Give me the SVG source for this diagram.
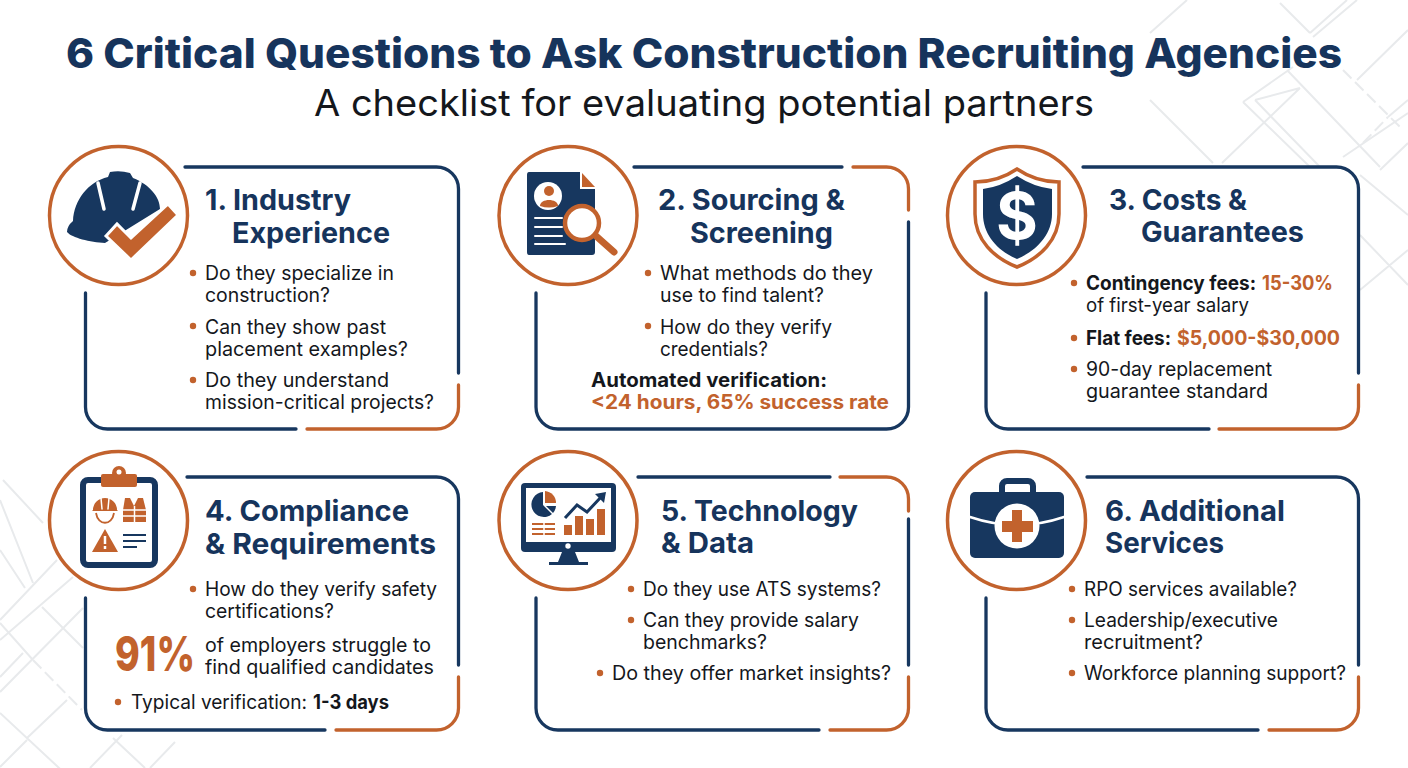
<svg xmlns="http://www.w3.org/2000/svg" width="1408" height="768" viewBox="0 0 1408 768">
<style>
text{font-family:"Inter","Liberation Sans",sans-serif;fill:#14171c}
.t{font-size:41px;font-weight:800;fill:#16345c}
.s{font-size:37px;font-weight:400;fill:#14171c}
.h{font-size:28.5px;font-weight:700;fill:#16345c;transform:translateY(1px)}
.b{font-size:19.5px;font-weight:400;transform:translateY(1px)}
.k{font-size:19.5px;font-weight:700;transform:translateY(1px)}
.o{font-size:19.5px;font-weight:700;fill:#c2622d;transform:translateY(1px)}
.n{fill:none;stroke:#17375f;stroke-width:3.3;stroke-linecap:round}
.r{fill:none;stroke:#c2622d;stroke-width:3.3;stroke-linecap:round}
.c{fill:#fff;stroke:#c2622d;stroke-width:3.5}
.d{fill:#c2622d}
.nf{fill:#17375f}
.of{fill:#c2622d}
.wl{stroke:#fff;fill:none;stroke-linecap:round}
.bg{fill:none;stroke:#e8eaec;stroke-width:2}
</style>
<rect width="1408" height="768" fill="#fff"/>
<g id="background">
<path class="bg" d="M1280 3L1310 33M1357 0L1313 37M1347 0L1310 33M1243 102L1293 67M1243 102L1310 167M1255 100L1300 88M1255 100L1320 167M1287 70L1380 167M1150 100L1213 163M1222 163L1300 88M1187 0L1150 33M1357 80L1408 30M1343 157L1408 113M1380 170L1408 143M1360 235L1408 285M1360 290L1408 250M1360 175L1408 215"/>
<path class="bg" stroke-dasharray="12 5" d="M1343 70L1403 130M1363 143L1388 117"/>
<path class="bg" d="M1388 117L1408 100"/>
<path class="bg" d="M3 480L43 523M0 500L33 583M0 550L25 588M0 620L57 560M0 640L73 577M42 607L83 648M0 623L33 660M0 677L23 653M0 692L83 608M27 738L67 700M0 713L72 780M0 767L27 740M113 738L145 768M90 768L122 735M150 768L175 742"/>
<path class="bg" stroke-dasharray="12 5" d="M33 660L82 710"/>
</g>
<g id="title">
<text class="t" x="66" y="68" textLength="1276" lengthAdjust="spacingAndGlyphs">6 Critical Questions to Ask Construction Recruiting Agencies</text>
<text class="s" x="314" y="116" textLength="780" lengthAdjust="spacingAndGlyphs">A checklist for evaluating potential partners</text>
</g>

<g id="connectors">
<rect x="85.500" y="167" width="373" height="262" rx="22" fill="#fff"/>
<rect x="536" y="167" width="372.500" height="262" rx="22" fill="#fff"/>
<rect x="986" y="167" width="372.500" height="262" rx="22" fill="#fff"/>
<rect x="85.500" y="477" width="373" height="253" rx="22" fill="#fff"/>
<rect x="536" y="477" width="372.500" height="253" rx="22" fill="#fff"/>
<rect x="986" y="477" width="372.500" height="253" rx="22" fill="#fff"/>
<path class="n" d="M185 167H436.500A22 22 0 0 1 458.500 189V373M296 429H107.500A22 22 0 0 1 85.500 407V293"/>
<path class="r" d="M458.500 385V407A22 22 0 0 1 436.500 429H307"/>
<path class="n" d="M634 167H842M908.500 222V407A22 22 0 0 1 886.500 429H558A22 22 0 0 1 536 407V293"/>
<path class="r" d="M853 167H886.500A22 22 0 0 1 908.500 189V210"/>
<path class="n" d="M1083 167H1336.500A22 22 0 0 1 1358.500 189V373M1209 429H1008A22 22 0 0 1 986 407V293"/>
<path class="r" d="M1358.500 385V407A22 22 0 0 1 1336.500 429H1219"/>
<path class="n" d="M187 477H436.500A22 22 0 0 1 458.500 499V665M325 730H107.500A22 22 0 0 1 85.500 708V598"/>
<path class="r" d="M458.500 677V708A22 22 0 0 1 436.500 730H336"/>
<path class="n" d="M638 477H830M908.500 519V665M819 730H558A22 22 0 0 1 536 708V598"/>
<path class="r" d="M840 477H886.500A22 22 0 0 1 908.500 499V511M908.500 677V708A22 22 0 0 1 886.500 730H830"/>
<path class="n" d="M1087 477H1336.500A22 22 0 0 1 1358.500 499V665M1258 730H1008A22 22 0 0 1 986 708V598"/>
<path class="r" d="M1358.500 677V708A22 22 0 0 1 1336.500 730H1269"/>
</g>

<g id="node1">
<circle class="c" cx="118.500" cy="215.500" r="69"/>
<path class="nf" d="M110 172Q120 170 130 173L133 178C150 185 160 197 160 209L105 243C90 242 72 238 67 232Q67 226 73 221C74 200 88 182 108 177Z"/>
<path class="wl" stroke-width="3.500" d="M98 183L104 209M140 183L133 209"/>
<path class="of" stroke="#fff" stroke-width="3" d="M106 236L117 224L131 238L168 204L178 215L131 260Z"/>
<text class="h" x="205" y="209" textLength="146" lengthAdjust="spacingAndGlyphs">1. Industry</text>
<text class="h" x="232" y="242" textLength="158" lengthAdjust="spacingAndGlyphs">Experience</text>
<circle class="d" cx="193" cy="273" r="3.200"/><circle class="d" cx="193" cy="326" r="3.200"/><circle class="d" cx="193" cy="380" r="3.200"/>
<text class="b" x="205" y="279" textLength="189" lengthAdjust="spacingAndGlyphs">Do they specialize in</text>
<text class="b" x="205" y="301" textLength="125" lengthAdjust="spacingAndGlyphs">construction?</text>
<text class="b" x="205" y="333" textLength="181" lengthAdjust="spacingAndGlyphs">Can they show past</text>
<text class="b" x="205" y="355" textLength="203" lengthAdjust="spacingAndGlyphs">placement examples?</text>
<text class="b" x="205" y="386" textLength="184" lengthAdjust="spacingAndGlyphs">Do they understand</text>
<text class="b" x="205" y="408" textLength="229" lengthAdjust="spacingAndGlyphs">mission-critical projects?</text>
</g>

<g id="node2">
<circle class="c" cx="568" cy="215.500" r="69"/>
<path class="nf" d="M529 172H580V189H595V252Q595 255 592 255H529Q527 255 527 252V175Q527 172 529 172Z"/>
<path class="of" d="M582 173L595 187H582Z"/>
<circle cx="548" cy="196" r="14" fill="#fff"/>
<circle class="of" cx="549" cy="191" r="5"/>
<path class="of" d="M540 206C540 198 558 198 558 206Q549 209 540 206Z"/>
<path class="wl" stroke-width="2" d="M535 218H562M535 227H562M535 236H562M535 244H565"/>
<circle cx="582" cy="223" r="17" fill="#fff" stroke="#c2622d" stroke-width="4.500"/>
<path d="M596 236L614 252" stroke="#c2622d" stroke-width="7" stroke-linecap="round"/>
<text class="h" x="658" y="209" textLength="187" lengthAdjust="spacingAndGlyphs">2. Sourcing &amp;</text>
<text class="h" x="690" y="242" textLength="143" lengthAdjust="spacingAndGlyphs">Screening</text>
<circle class="d" cx="648" cy="273" r="3.200"/><circle class="d" cx="648" cy="326" r="3.200"/>
<text class="b" x="660" y="279" textLength="213" lengthAdjust="spacingAndGlyphs">What methods do they</text>
<text class="b" x="660" y="301" textLength="164" lengthAdjust="spacingAndGlyphs">use to find talent?</text>
<text class="b" x="660" y="333" textLength="172" lengthAdjust="spacingAndGlyphs">How do they verify</text>
<text class="b" x="660" y="355" textLength="108" lengthAdjust="spacingAndGlyphs">credentials?</text>
<text class="k" x="591" y="386" textLength="236" lengthAdjust="spacingAndGlyphs">Automated verification:</text>
<text class="o" x="591" y="408" textLength="298" lengthAdjust="spacingAndGlyphs">&lt;24 hours, 65% success rate</text>
</g>

<g id="node3">
<circle class="c" cx="1016.500" cy="215.500" r="69"/>
<path d="M1017 169Q1036 182 1059 182V214C1059 240 1040 258 1017 267C994 258 975 240 975 214V182Q998 182 1017 169Z" fill="#fff" stroke="#c2622d" stroke-width="3.500"/>
<path class="nf" d="M1017 176Q1034 187 1052 189V214C1052 235 1036 251 1017 259C998 251 983 235 983 214V189Q1000 187 1017 176Z"/>
<text x="1017" y="239" text-anchor="middle" style="font-size:64px;font-weight:700;fill:#fff">$</text>
<text class="h" x="1109" y="209" textLength="138" lengthAdjust="spacingAndGlyphs">3. Costs &amp;</text>
<text class="h" x="1141" y="241" textLength="163" lengthAdjust="spacingAndGlyphs">Guarantees</text>
<circle class="d" cx="1074" cy="283" r="3.200"/><circle class="d" cx="1074" cy="338" r="3.200"/><circle class="d" cx="1074" cy="369" r="3.200"/>
<text class="k" x="1086" y="289" textLength="170" lengthAdjust="spacingAndGlyphs">Contingency fees:</text>
<text class="o" x="1262" y="289" textLength="71" lengthAdjust="spacingAndGlyphs">15-30%</text>
<text class="b" x="1086" y="311" textLength="163" lengthAdjust="spacingAndGlyphs">of first-year salary</text>
<text class="k" x="1086" y="344" textLength="85" lengthAdjust="spacingAndGlyphs">Flat fees:</text>
<text class="o" x="1177" y="344" textLength="163" lengthAdjust="spacingAndGlyphs">$5,000-$30,000</text>
<text class="b" x="1086" y="375" textLength="186" lengthAdjust="spacingAndGlyphs">90-day replacement</text>
<text class="b" x="1086" y="397" textLength="182" lengthAdjust="spacingAndGlyphs">guarantee standard</text>
</g>

<g id="node4">
<circle class="c" cx="118.500" cy="520.500" r="69"/>
<rect x="83" y="480" width="72" height="85" rx="5" fill="#fff" stroke="#17375f" stroke-width="6"/>
<rect class="of" x="101" y="474" width="36" height="13" rx="2"/>
<circle class="of" cx="119" cy="473" r="7"/><circle cx="119" cy="472" r="2.500" fill="#fff"/>
<path class="of" d="M93 510A12 12 0 0 1 117 510L118 511H92Z"/>
<path class="wl" stroke-width="1.500" d="M101 498L102 509M109 498L108 509"/>
<path d="M96 513C98 526 112 526 114 513" fill="none" stroke="#c2622d" stroke-width="1.800"/>
<path class="of" d="M125 498H130L134 506L138 498H143L146 510V522H123V510Z"/>
<path stroke="#fff" stroke-width="1.500" d="M123 510H146M123 516H146M134.500 506V522"/>
<path class="of" d="M105 529L118 552H92Z"/>
<path stroke="#fff" stroke-width="2.500" d="M105 536V544M105 546V549"/>
<path stroke="#17375f" stroke-width="2" fill="none" d="M123 535H146M123 541H146M123 547H137"/>
<text class="h" x="205" y="520" textLength="204" lengthAdjust="spacingAndGlyphs">4. Compliance</text>
<text class="h" x="205" y="553" textLength="231" lengthAdjust="spacingAndGlyphs">&amp; Requirements</text>
<circle class="d" cx="193" cy="589" r="3.200"/><circle class="d" cx="118" cy="702" r="3.200"/>
<text class="b" x="205" y="595" textLength="232" lengthAdjust="spacingAndGlyphs">How do they verify safety</text>
<text class="b" x="205" y="617" textLength="129" lengthAdjust="spacingAndGlyphs">certifications?</text>
<text x="115" y="671" textLength="80" lengthAdjust="spacingAndGlyphs" style="font-size:48px;font-weight:800;fill:#c2622d">91%</text>
<text class="b" x="205" y="651" textLength="226" lengthAdjust="spacingAndGlyphs">of employers struggle to</text>
<text class="b" x="205" y="673" textLength="229" lengthAdjust="spacingAndGlyphs">find qualified candidates</text>
<text class="b" x="131" y="708" textLength="176" lengthAdjust="spacingAndGlyphs">Typical verification:</text>
<text class="k" x="313" y="708" textLength="76" lengthAdjust="spacingAndGlyphs">1-3 days</text>
</g>

<g id="node5">
<circle class="c" cx="568" cy="520.500" r="69"/>
<rect class="nf" x="521" y="483" width="95" height="69" rx="4"/>
<rect x="526" y="488" width="85" height="54" fill="#fff"/>
<path class="nf" d="M562 552H575L579 562H588V565H549V562H558Z"/>
<circle cx="568" cy="546" r="2.700" fill="#fff"/>
<path class="nf" d="M543 505V492A12.500 12.500 0 1 0 552 514Z"/>
<path class="of" d="M545 491A12 12 0 0 1 556 503H545Z"/>
<path class="nf" d="M546 506H556A12 12 0 0 1 553 513Z"/>
<path stroke="#c2622d" stroke-width="2" fill="none" d="M532 524H555M532 529H555M532 534H555"/>
<path stroke="#fff" stroke-width="1.500" d="M544 522V536"/>
<rect class="of" x="564" y="525" width="8" height="10"/>
<rect class="of" x="575" y="516" width="8" height="19"/>
<rect class="of" x="586" y="519" width="8" height="16"/>
<rect class="of" x="597" y="509" width="8" height="26"/>
<path fill="none" stroke="#17375f" stroke-width="3" d="M565 518L577 505L587 512L602 496"/>
<path class="nf" d="M595 494L606 492L604 503Z"/>
<text class="h" x="661" y="520" textLength="197" lengthAdjust="spacingAndGlyphs">5. Technology</text>
<text class="h" x="661" y="552" textLength="93" lengthAdjust="spacingAndGlyphs">&amp; Data</text>
<circle class="d" cx="631" cy="589" r="3.200"/><circle class="d" cx="631" cy="620" r="3.200"/><circle class="d" cx="600" cy="673" r="3.200"/>
<text class="b" x="643" y="595" textLength="238" lengthAdjust="spacingAndGlyphs">Do they use ATS systems?</text>
<text class="b" x="643" y="626" textLength="216" lengthAdjust="spacingAndGlyphs">Can they provide salary</text>
<text class="b" x="643" y="648" textLength="124" lengthAdjust="spacingAndGlyphs">benchmarks?</text>
<text class="b" x="612" y="679" textLength="279" lengthAdjust="spacingAndGlyphs">Do they offer market insights?</text>
</g>

<g id="node6">
<circle class="c" cx="1016.500" cy="520.500" r="69"/>
<rect x="1002" y="481" width="31" height="20" rx="5" fill="#fff" stroke="#17375f" stroke-width="6"/>
<rect class="nf" x="970" y="492" width="94" height="66" rx="5"/>
<path class="wl" stroke-width="2.500" stroke-linecap="butt" d="M970 517Q1017 533 1064 517"/>
<circle cx="1017" cy="526" r="22.500" fill="#fff"/>
<path class="of" d="M1012 510H1022V521H1033V532H1022V542H1012V532H1002V521H1012Z"/>
<text class="h" x="1105" y="520" textLength="180" lengthAdjust="spacingAndGlyphs">6. Additional</text>
<text class="h" x="1105" y="552" textLength="119" lengthAdjust="spacingAndGlyphs">Services</text>
<circle class="d" cx="1072" cy="589" r="3.200"/><circle class="d" cx="1072" cy="620" r="3.200"/><circle class="d" cx="1072" cy="673" r="3.200"/>
<text class="b" x="1084" y="595" textLength="213" lengthAdjust="spacingAndGlyphs">RPO services available?</text>
<text class="b" x="1084" y="626" textLength="194" lengthAdjust="spacingAndGlyphs">Leadership/executive</text>
<text class="b" x="1084" y="648" textLength="119" lengthAdjust="spacingAndGlyphs">recruitment?</text>
<text class="b" x="1084" y="679" textLength="262" lengthAdjust="spacingAndGlyphs">Workforce planning support?</text>
</g>
</svg>
